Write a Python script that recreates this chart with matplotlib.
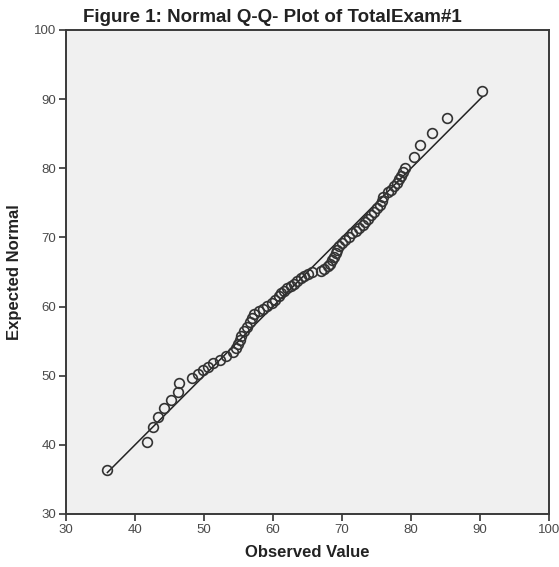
import numpy as np
import matplotlib
matplotlib.use('Agg')
import matplotlib.pyplot as plt

plt.rcParams['font.family'] = ['Liberation Sans', 'DejaVu Sans']

observed = [36.0, 41.8, 42.6, 43.4, 44.2, 45.2, 46.2, 46.4, 48.2, 49.1,
            49.9, 50.6, 51.3, 52.3, 53.2, 54.2, 54.7, 55.0, 55.2, 55.4,
            55.8, 56.2, 56.6, 56.9, 57.2, 57.9, 58.6, 59.2, 59.8, 60.3,
            60.8, 61.2, 61.6, 62.1, 62.6, 63.0, 63.5, 64.0, 64.5, 65.1,
            65.6, 66.9, 67.4, 67.9, 68.2, 68.5, 68.8, 69.1, 69.3, 69.6,
            70.0, 70.5, 71.0, 71.5, 72.0, 72.5, 73.0, 73.4, 73.8, 74.2,
            74.6, 75.1, 75.5, 75.8, 75.9, 76.6, 77.1, 77.6, 78.0, 78.3,
            78.6, 78.9, 79.1, 80.4, 81.3, 83.0, 85.2, 90.3]
expected = [36.4, 40.4, 42.6, 44.1, 45.4, 46.5, 47.7, 48.9, 49.7, 50.3,
            50.8, 51.3, 51.9, 52.3, 52.8, 53.4, 54.0, 54.6, 55.2, 55.8,
            56.5, 57.1, 57.7, 58.4, 58.9, 59.3, 59.7, 60.1, 60.5, 60.9,
            61.5, 61.9, 62.3, 62.7, 63.0, 63.3, 63.7, 64.1, 64.4, 64.7,
            65.0, 65.2, 65.5, 65.8, 66.2, 66.7, 67.2, 67.7, 68.2, 68.7,
            69.2, 69.6, 70.1, 70.6, 71.0, 71.4, 71.8, 72.3, 72.7, 73.2,
            73.7, 74.2, 74.7, 75.3, 75.9, 76.5, 76.9, 77.4, 77.9, 78.4,
            78.9, 79.5, 80.1, 81.6, 83.4, 85.1, 87.3, 91.2]
ticks = [30, 40, 50, 60, 70, 80, 90, 100]

fig = plt.figure(figsize=(5.59, 5.67), dpi=100)
ax = fig.add_axes([66/559, 53/567, 483/559, 484/567])
ax.set_facecolor('#f0f0f0')

# linha de referencia
lo, hi = min(observed), max(observed)
ax.plot([lo, hi], [lo, hi], color='#222222', linewidth=1.1, zorder=2)
ax.plot(observed, expected, linestyle='none', marker='o', markersize=7,
        markerfacecolor='none', markeredgecolor='#333333', markeredgewidth=1.2, zorder=3)

ax.set_xlim(30, 100)
ax.set_ylim(30, 100)
ax.set_xticks(ticks)
ax.set_yticks(ticks)
ax.tick_params(direction='out', length=5, width=1.2, color='#333333',
               labelsize=9.5, labelcolor='#4a4a4a', pad=2)
for s in ax.spines.values():
    s.set_color('#3a3a3a')
    s.set_linewidth(1.4)

ax.set_xlabel('Observed Value', fontsize=12, fontweight='bold', color='#222222', labelpad=7)
ax.set_ylabel('Expected Normal', fontsize=12, fontweight='bold', color='#222222', labelpad=9)
fig.text(272/559, 1 - 18/567, 'Figure 1: Normal Q-Q- Plot of TotalExam#1', ha='center', va='center',
         fontsize=13.5, fontweight='bold', color='#222222')

fig.savefig('out.png', dpi=100, facecolor='white')
